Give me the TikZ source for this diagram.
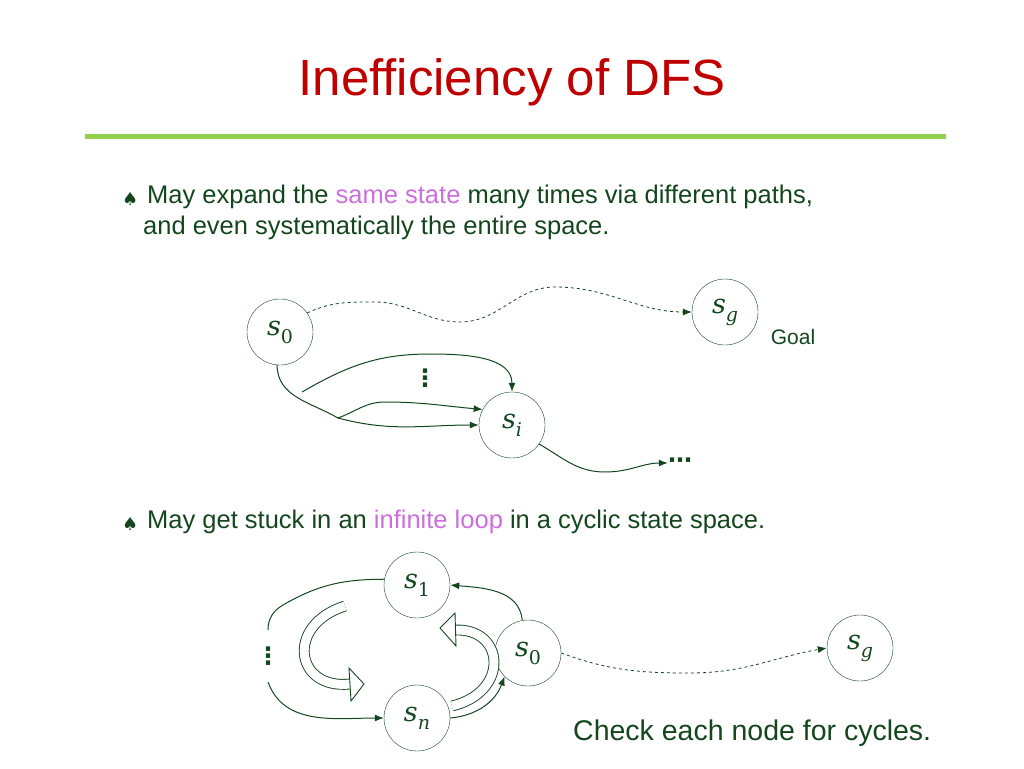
\documentclass[tikz,border=0pt]{standalone}
\usepackage{fontspec}
\setmainfont{Liberation Sans}
\newfontfamily\dv{DejaVu Sans}
\newfontfamily\mth{DejaVu Serif}
\usetikzlibrary{arrows.meta}
\definecolor{dg}{RGB}{20,70,30}
\definecolor{tred}{RGB}{192,0,0}
\definecolor{lgreen}{RGB}{146,208,80}
\definecolor{pink}{RGB}{204,110,220}
\newcommand\svar[2]{{\mth\itshape s\raisebox{-0.3em}{\fontsize{19}{19}\selectfont #1#2}}}
\begin{document}
\begin{tikzpicture}[x=1pt,y=-1pt,
  st/.style={circle,draw=dg,fill=white,minimum size=66pt,inner sep=0pt,font=\fontsize{27}{27}\selectfont,text=dg},
  ed/.style={draw=dg,line width=1pt,-{Latex[length=9pt,width=7pt]}},
  blk/.style={draw=dg,double=white,double distance=9pt,line width=0.9pt},
  dots/.style={text=dg,font=\dv\bfseries\fontsize{24}{24}\selectfont,inner sep=0pt},
  txt/.style={font=\fontsize{25.5}{30}\selectfont,text=dg,anchor=west,inner sep=0pt}]
\useasboundingbox (0,0) rectangle (1024,768);
\node[font=\fontsize{51}{56}\selectfont,text=tred] (title) at (512,82) {Inefficiency of DFS};
\draw[lgreen,line width=5pt] (85,136) -- (946,136);
\node[txt,font=\dv\fontsize{18}{18}\selectfont] (b1) at (122,199) {♠};
\node[txt] (t1) at (147,197) {May expand the \textcolor{pink}{same state} many times via different paths,};
\node[txt] (t2) at (143,228) {and even systematically the entire space.};
\node[txt,font=\dv\fontsize{18}{18}\selectfont] (b2) at (122,524) {♠};
\node[txt] (t3) at (147,522) {May get stuck in an \textcolor{pink}{infinite loop} in a cyclic state space.};
\node[txt,font=\fontsize{28.5}{32}\selectfont] (t4) at (573,733) {Check each node for cycles.};
% top graph
\node[st] (s0) at (280,332) {\svar{\upshape}{0}};
\node[st] (sg) at (725,312) {\svar{\itshape}{g}};
\node[st] (si) at (512,425) {\svar{\itshape}{i}};
\node[dots] (d1) at (680,463) {⋯};
\node[dots] (v1) at (425,378) {⋮};
\node[text=dg,font=\fontsize{21}{21}\selectfont] (goal) at (793,337) {Goal};
\coordinate (w1) at (375,302); \coordinate (w2) at (460,322); \coordinate (w3) at (555,287);
\draw[ed,dashed,line width=0.8pt] (s0.35) to[out=25,in=180] (w1) to[out=0,in=180] (w2) to[out=0,in=180] (w3) to[out=0,in=180] (sg.west);
\coordinate (j1) at (302,392); \coordinate (j2) at (338,418);
\draw[ed] (s0.265) to[out=-90,in=150] (j2) to[out=-15,in=180] (si.west);
\draw[ed] (j1) to[out=30,in=180] (430,354) to[out=0,in=90] (si.90);
\draw[ed] (j2) to[out=20,in=180] (385,402) to[out=0,in=175] (si.152);
\draw[ed] (si.-35) to[out=-30,in=180] (605,472) to[out=0,in=180] (d1.west);
% bottom graph
\node[st] (b1s) at (417,585) {\svar{\upshape}{1}};
\node[st] (b0) at (528,653) {\svar{\upshape}{0}};
\node[st] (bn) at (417,718) {\svar{\itshape}{n}};
\node[st] (bg) at (860,648) {\svar{\itshape}{g}};
\node[dots] (v2) at (268,656) {⋮};
\coordinate (c1) at (268,630); \coordinate (c2) at (268,682);
\draw[ed,dashed,line width=0.8pt] (b0.east) to[out=-20,in=180] (690,673) to[out=0,in=190] (bg.west);
\draw[ed] (b0.100) to[out=95,in=-5] (b1s.east);
\draw[ed] (bn.east) to[out=5,in=250] (b0.225);
\draw[dg,line width=1pt] (b1s.170) to[out=180,in=30] (283,605) to[out=210,in=90] (c1);
\draw[ed] (c2) to[out=-70,in=180] (bn.west);
% block arrows
\draw[blk] (345,606) .. controls (285,625) and (295,690) .. (350,684);
\draw[dg,line width=0.9pt,fill=white] (349,668) -- (364,684) -- (351,701) -- cycle;
\draw[blk] (452,706) .. controls (510,692) and (505,628) .. (455,630);
\draw[dg,line width=0.9pt,fill=white] (456,646) -- (440,628) -- (455,613) -- cycle;
\end{tikzpicture}
\end{document}
